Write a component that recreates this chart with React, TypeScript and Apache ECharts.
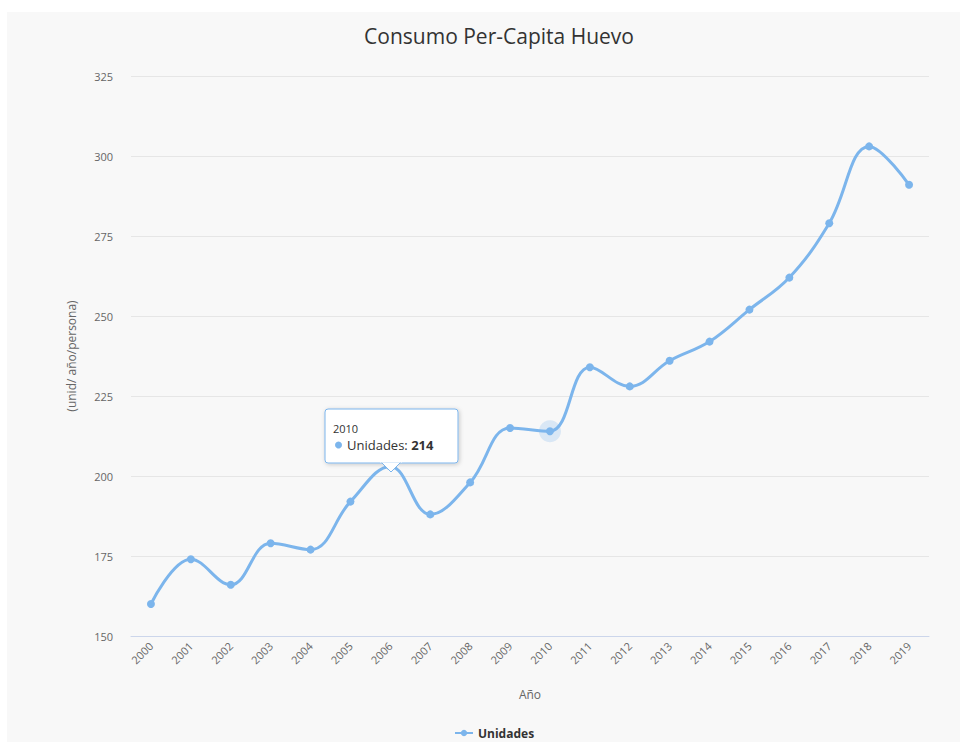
import React, { useEffect, useRef } from "react";
import * as echarts from "echarts";

const years = ["2000","2001","2002","2003","2004","2005","2006","2007","2008","2009","2010","2011","2012","2013","2014","2015","2016","2017","2018","2019"];
const unidades = [160, 174, 166, 179, 177, 192, 203, 188, 198, 215, 214, 234, 228, 236, 242, 252, 262, 279, 303, 291];
const yTicks = { min: 150, max: 325, interval: 25 };
const highlightIndex = 10;

export default function App() {
  const ref = useRef<HTMLDivElement>(null);
  useEffect(() => {
    if (!ref.current) return;
    const chart = echarts.init(ref.current, undefined, { renderer: "svg" });
    const font = "'Open Sans', 'DejaVu Sans', sans-serif";
    chart.setOption({
      animation: false,
      backgroundColor: "#ffffff",
      title: {
        text: "Consumo Per-Capita Huevo",
        left: 494,
        top: 20,
        textAlign: "center",
        textStyle: { fontFamily: font, fontSize: 21, fontWeight: "normal", color: "#333333" },
      },
      legend: {
        top: 722,
        left: 449,
        itemWidth: 18,
        itemHeight: 8,
        itemGap: 6,
        textStyle: { fontFamily: font, fontSize: 12, fontWeight: "bold", color: "#333333" },
      },
      grid: { left: 131, right: 31, top: 76, bottom: 106, containLabel: false },
      xAxis: {
        type: "category",
        data: years,
        boundaryGap: true,
        name: "Año",
        nameLocation: "middle",
        nameGap: 52,
        nameTextStyle: { fontFamily: font, fontSize: 12, color: "#666666" },
        axisLine: { lineStyle: { color: "#ccd6eb" } },
        axisTick: { show: false },
        axisLabel: { rotate: 45, margin: 8, fontFamily: font, fontSize: 11, color: "#666666" },
      },
      yAxis: {
        type: "value",
        min: yTicks.min,
        max: yTicks.max,
        interval: yTicks.interval,
        name: "(unid/ año/persona)",
        nameLocation: "middle",
        nameGap: 54,
        nameRotate: 90,
        nameTextStyle: { fontFamily: font, fontSize: 12, color: "#666666" },
        axisLine: { show: false },
        axisTick: { show: false },
        axisLabel: { margin: 18, fontFamily: font, fontSize: 11, color: "#666666" },
        splitLine: { lineStyle: { color: "#e6e6e6" } },
      },
      series: [
        {
          name: "Unidades",
          type: "line",
          data: unidades,
          smooth: 0.4,
          symbol: "circle",
          symbolSize: 8,
          lineStyle: { color: "#7cb5ec", width: 3 },
          itemStyle: { color: "#7cb5ec" },
          markPoint: {
            symbol: "circle",
            symbolSize: 22,
            label: { show: false },
            itemStyle: { color: "rgba(124,181,236,0.25)" },
            data: [{ coord: [highlightIndex, unidades[highlightIndex]] }],
            z: 1,
          },
        },
      ],
      graphic: [
        {
          type: "rect",
          z: -10,
          silent: true,
          shape: { x: 7, y: 12, width: 960, height: 740 },
          style: { fill: "#f8f8f8" },
        },
        {
          type: "rect",
          z: 100,
          shape: { x: 325, y: 409, width: 133, height: 54, r: 3 },
          style: {
            fill: "#ffffff",
            stroke: "#7cb5ec",
            lineWidth: 1,
            shadowBlur: 4,
            shadowOffsetX: 1,
            shadowOffsetY: 1,
            shadowColor: "rgba(0,0,0,0.2)",
          },
        },
        {
          type: "polygon",
          z: 101,
          shape: { points: [[381, 462], [401, 462], [391, 472]] },
          style: { fill: "#ffffff", stroke: "#7cb5ec", lineWidth: 1 },
        },
        {
          type: "rect",
          z: 102,
          shape: { x: 380, y: 459, width: 22, height: 3.5 },
          style: { fill: "#ffffff" },
        },
        {
          type: "text",
          z: 103,
          x: 333,
          y: 428,
          style: { text: "2010", fontFamily: font, fontSize: 11, fill: "#333333", verticalAlign: "middle" },
        },
        {
          type: "circle",
          z: 103,
          shape: { cx: 338.5, cy: 445, r: 3.5 },
          style: { fill: "#7cb5ec" },
        },
        {
          type: "text",
          z: 103,
          x: 347,
          y: 445,
          style: {
            text: "{a|Unidades: }{b|214}",
            verticalAlign: "middle",
            rich: {
              a: { fontFamily: font, fontSize: 13, fill: "#333333", color: "#333333" },
              b: { fontFamily: font, fontSize: 13, fontWeight: "bold", fill: "#333333", color: "#333333" },
            },
          },
        },
      ],
    });
    return () => chart.dispose();
  }, []);
  return (
    <div style={{ position: "absolute", left: 0, top: 0, width: 960, height: 742, background: "#fff" }}>
      <div ref={ref} style={{ width: 960, height: 742 }} />
    </div>
  );
}
